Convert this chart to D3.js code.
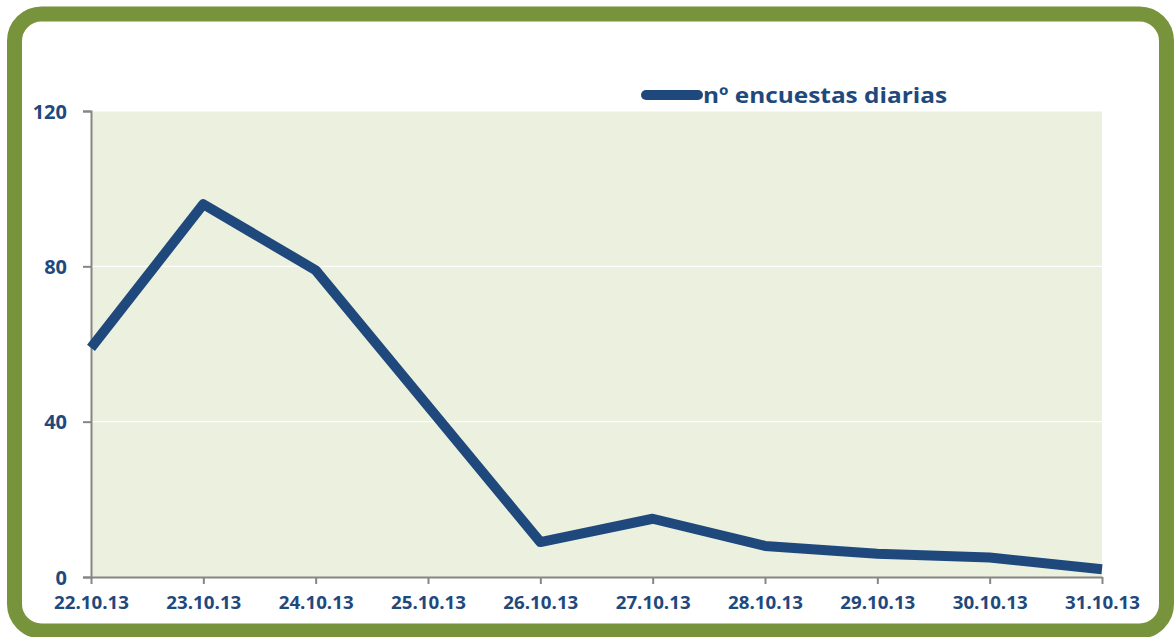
<!DOCTYPE html>
<html><head><meta charset="utf-8">
<script src="https://cdn.jsdelivr.net/npm/d3@7"></script>
<style>html,body{margin:0;padding:0;background:#fff;}svg{display:block;}</style>
</head><body>
<svg id="chart" width="1174" height="637"></svg>
<script>
const categories = ["22.10.13","23.10.13","24.10.13","25.10.13","26.10.13","27.10.13","28.10.13","29.10.13","30.10.13","31.10.13"];
const values = [59, 96, 79, 44, 9, 15, 8, 6, 5, 2];
const yTicks = [0, 40, 80, 120];
const seriesName = "nº encuestas diarias";

const svg = d3.select("#chart");
const blue = "#1f497d", green = "#77933c", plotBg = "#ebf1de", axisCol = "#868686";
const font = "'Open Sans', sans-serif";

// frame
svg.append("rect").attr("x", 14.5).attr("y", 14).attr("width", 1152).attr("height", 617)
  .attr("rx", 27).attr("ry", 27).attr("fill", "#fff").attr("stroke", green).attr("stroke-width", 15);

const L = 91, R = 1102, T = 111, B = 577;
const x = d3.scalePoint().domain(categories).range([L, R]).padding(0);
const y = d3.scaleLinear().domain([0, 120]).range([B, T]);

svg.append("rect").attr("x", L).attr("y", T).attr("width", R - L).attr("height", B - T).attr("fill", plotBg);

// gridlines
svg.append("g").selectAll("line").data(yTicks.filter(d => d > 0)).join("line")
  .attr("x1", L).attr("x2", R).attr("y1", d => y(d)).attr("y2", d => y(d))
  .attr("stroke", "#fff").attr("stroke-width", 1.2);

// y axis
const yAxis = svg.append("g").attr("transform", `translate(${L},0)`)
  .call(d3.axisLeft(y).tickValues(yTicks).tickSize(8).tickPadding(16));
yAxis.select(".domain").attr("stroke", axisCol).attr("stroke-width", 2);
yAxis.selectAll(".tick line").attr("stroke", axisCol).attr("stroke-width", 2);
yAxis.selectAll("text").attr("fill", blue).attr("font-family", font).attr("font-weight", "bold")
  .attr("font-size", 20).attr("dy", "0.36em");

// x axis
const xAxis = svg.append("g").attr("transform", `translate(0,${B})`)
  .call(d3.axisBottom(x).tickSize(7).tickPadding(13).tickSizeOuter(0));
xAxis.select(".domain").attr("stroke", axisCol).attr("stroke-width", 2);
xAxis.selectAll(".tick line").attr("stroke", axisCol).attr("stroke-width", 2);
xAxis.selectAll("text").attr("fill", blue).attr("font-family", font).attr("font-weight", "bold")
  .attr("font-size", 17).each(function(){ this.setAttribute("textLength", 75); this.setAttribute("lengthAdjust", "spacingAndGlyphs"); });

// line
const line = d3.line().x((d, i) => x(categories[i])).y(d => y(d));
svg.append("path").datum(values).attr("d", line).attr("fill", "none")
  .attr("stroke", blue).attr("stroke-width", 10).attr("stroke-linejoin", "round");

// legend
const lg = svg.append("g");
lg.append("line").attr("x1", 646).attr("x2", 698).attr("y1", 95).attr("y2", 95)
  .attr("stroke", blue).attr("stroke-width", 10).attr("stroke-linecap", "round");
const lt = lg.append("text").attr("x", 703).attr("y", 103).text(seriesName)
  .attr("fill", blue).attr("font-family", font).attr("font-weight", "bold").attr("font-size", 22);
lt.attr("textLength", 244).attr("lengthAdjust", "spacingAndGlyphs");
</script>
</body></html>
